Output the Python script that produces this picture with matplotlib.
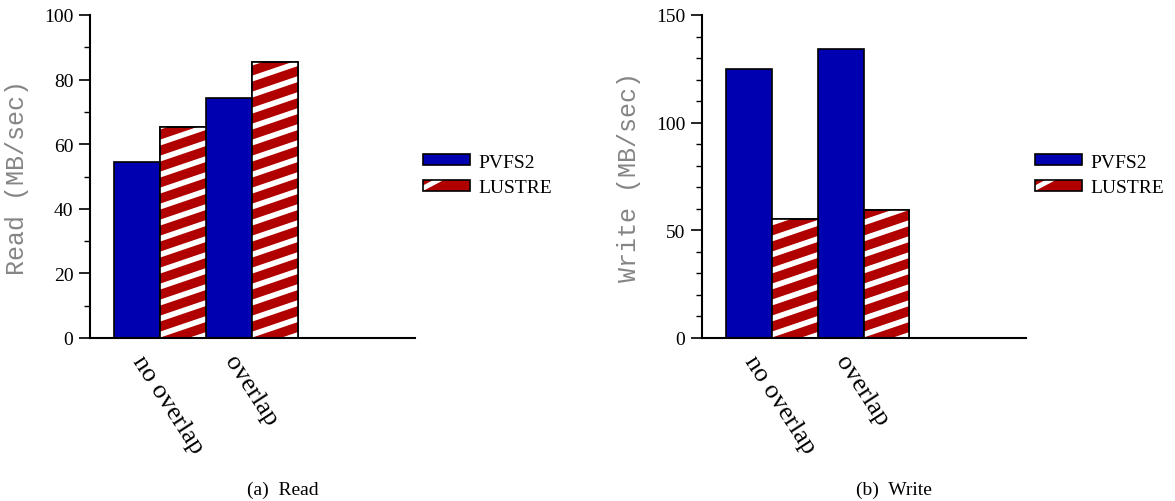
import numpy as np
import matplotlib
matplotlib.use("Agg")
import matplotlib.pyplot as plt
from matplotlib.patches import Rectangle, Polygon
from matplotlib.collections import PolyCollection
from matplotlib.transforms import IdentityTransform
from matplotlib.legend_handler import HandlerBase

categories = ["no overlap", "overlap"]
series = ["PVFS2", "LUSTRE"]
read_pvfs2 = [54.6, 74.2]
read_lustre = [65.4, 85.6]
write_pvfs2 = [124.9, 134.2]
write_lustre = [55.3, 59.4]
read_yticks = [0, 20, 40, 60, 80, 100]
write_yticks = [0, 50, 100, 150]

BLUE = "#0000B0"
RED = "#B00000"
SERIF = "Liberation Serif"
MONO = "Liberation Mono"

DPI = 100
fig = plt.figure(figsize=(11.75, 5.02), dpi=DPI)

STRIPE_SLOPE = 0.34
STRIPE_PERIOD = 16.0
STRIPE_WHITE = 6.0


def stripe_polys(x0, y0, x1, y1):
    w = x1 - x0
    polys = []
    yb = y0 - STRIPE_SLOPE * w - STRIPE_PERIOD
    while yb < y1 + STRIPE_PERIOD:
        polys.append([(x0, yb), (x1, yb + STRIPE_SLOPE * w),
                      (x1, yb + STRIPE_SLOPE * w + STRIPE_WHITE), (x0, yb + STRIPE_WHITE)])
        yb += STRIPE_PERIOD
    return polys


def add_stripes(ax, bar):
    bb = bar.get_window_extent()
    pc = PolyCollection(stripe_polys(bb.x0, bb.y0, bb.x1, bb.y1), facecolors="white",
                        edgecolors="none", transform=IdentityTransform(), zorder=2.5)
    ax.add_collection(pc, autolim=False)
    pc.set_clip_path(bar)


class StripeHandler(HandlerBase):
    def create_artists(self, legend, orig_handle, xdescent, ydescent, width, height, fontsize, trans):
        base = Rectangle((-xdescent, -ydescent), width, height, facecolor=RED, edgecolor="none",
                         transform=trans)
        x0, y0 = -xdescent, -ydescent
        stripe = Polygon([(x0, y0), (x0 + width * 0.45, y0 + height), (x0 + width * 0.22, y0 + height),
                          (x0, y0 + height * 0.5)], closed=True, facecolor="white",
                         edgecolor="none", transform=trans)
        outline = Rectangle((-xdescent, -ydescent), width, height, facecolor="none",
                            edgecolor="black", linewidth=1.2, transform=trans)
        return [base, stripe, outline]


class SolidHandler(HandlerBase):
    def create_artists(self, legend, orig_handle, xdescent, ydescent, width, height, fontsize, trans):
        r = Rectangle((-xdescent, -ydescent), width, height, facecolor=BLUE,
                      edgecolor="black", linewidth=1.2, transform=trans)
        return [r]


def make_panel(rect, p_vals, l_vals, yticks, ylabel, caption, caption_x, legend_x):
    ax = fig.add_axes(rect)
    x = np.arange(len(categories))
    w = 0.5
    ax.set_xlim(-0.76, 2.77)
    ax.set_ylim(yticks[0], yticks[-1])
    b1 = ax.bar(x - w / 2, p_vals, width=w, color=BLUE, edgecolor="black", linewidth=1.2,
                zorder=2, label=series[0])
    b2 = ax.bar(x + w / 2, l_vals, width=w, color=RED, edgecolor="black", linewidth=1.2,
                zorder=2, label=series[1])
    for bar in b2:
        add_stripes(ax, bar)
    for bar in b2:
        ax.add_patch(Rectangle(bar.get_xy(), bar.get_width(), bar.get_height(), facecolor="none",
                               edgecolor="black", linewidth=1.2, zorder=3))

    for s in ("top", "right"):
        ax.spines[s].set_visible(False)
    ax.spines["left"].set_linewidth(1.5)
    ax.spines["bottom"].set_linewidth(1.5)

    ax.set_yticks(yticks)
    ax.set_yticklabels([str(t) for t in yticks], fontfamily=SERIF, fontsize=14)
    ax.yaxis.set_minor_locator(matplotlib.ticker.MultipleLocator(10))
    ax.tick_params(axis="y", which="major", length=8, width=1.2, direction="out", pad=4)
    ax.tick_params(axis="y", which="minor", length=4, width=1.0, direction="out")

    ax.set_xticks(x - w / 2)
    ax.set_xticklabels(categories, rotation=-57, rotation_mode="anchor", ha="left", va="center",
                       fontfamily=SERIF, fontsize=19)
    ax.tick_params(axis="x", length=0, pad=14)

    ax.set_ylabel(ylabel, fontfamily=MONO, fontsize=18, color="#858585", labelpad=11)

    fig.text(caption_x, 1 - 490 / 502, caption, ha="center", va="center",
             fontfamily=SERIF, fontsize=14)

    fig.legend([b1, b2], series, loc="center left",
               bbox_to_anchor=(legend_x, 1 - 176 / 502), bbox_transform=fig.transFigure,
               frameon=False, borderpad=0, borderaxespad=0, handlelength=2.4,
               handleheight=0.5, handletextpad=0.45, labelspacing=0.45,
               prop={"family": SERIF, "size": 14},
               handler_map={b1: SolidHandler(), b2: StripeHandler()})
    return ax


W, H = 1175.0, 502.0
ax1 = make_panel([90 / W, 1 - 339 / H, 325 / W, 323 / H], read_pvfs2, read_lustre, read_yticks,
                 "Read (MB/sec)", "(a)  Read", 283 / W, 423 / W)
ax2 = make_panel([702 / W, 1 - 339 / H, 324 / W, 323 / H], write_pvfs2, write_lustre, write_yticks,
                 "Write (MB/sec)", "(b)  Write", 894 / W, 1035 / W)

fig.savefig("out.png", dpi=DPI)
